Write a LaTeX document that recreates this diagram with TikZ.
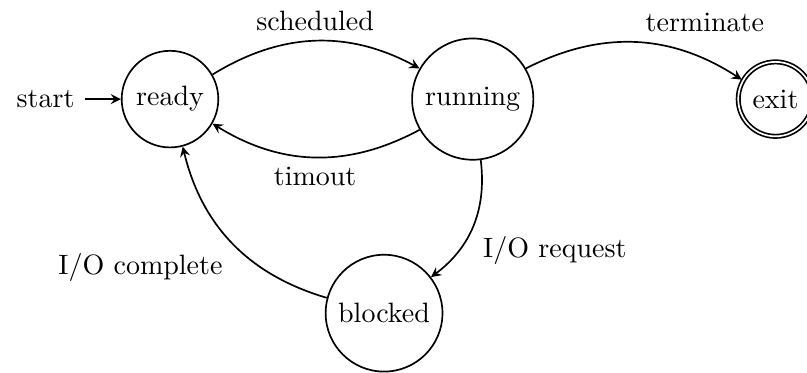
\documentclass[tikz,border=0pt]{standalone}
\usepackage{tikz}
\usetikzlibrary{arrows, automata, positioning}

\begin{document}
\begin{tikzpicture}[>=stealth, auto, node distance=3.8cm, semithick]
	\tikzstyle{every state}=[draw=black, fill=white]
	\useasboundingbox (-2.134,-3.427) rectangle (7.996,1.244);
	
	\node[state, initial] (ready) {ready};
	\node[state] (running) [right of=ready] {running};
	\node[state, accepting] (exit) [right of=running] {exit};
	\node[state] (blocked) [below right of=ready] {blocked};
	
	\path[->] (ready) edge [bend left] node {scheduled} (running);
	\path[->] (running) edge [bend left] node {timout} (ready);
	\path[->] (running) edge [bend left] node[above right] {terminate} (exit);
	\path[->] (running) edge [bend left] node {I/O request} (blocked);
	\path[->] (blocked) edge [bend left] node {I/O complete} (ready);
\end{tikzpicture}
\end{document}
